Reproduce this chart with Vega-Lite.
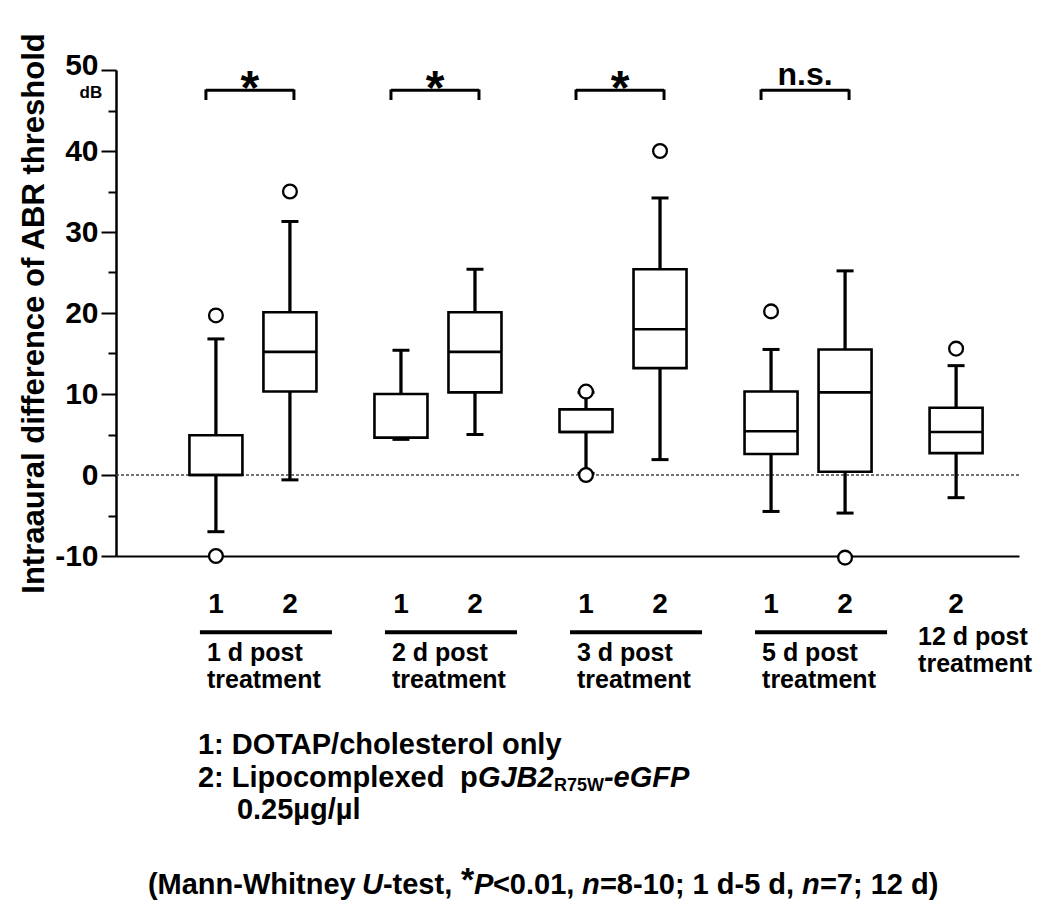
{
  "$schema": "https://vega.github.io/schema/vega-lite/v6.json",
  "width": 903,
  "height": 486,
  "autosize": {"type": "none"},
  "padding": {"left": 116, "top": 70, "right": 31, "bottom": 356},
  "background": "white",
  "config": {
    "view": {"stroke": null},
    "text": {"font": "Liberation Sans", "fontWeight": "bold", "color": "black"},
    "axis": {"grid": false, "labelFont": "Liberation Sans", "titleFont": "Liberation Sans"}
  },
  "datasets": {
    "boxes": [
      {"day": "1d", "trt": "1", "slot": "1d-1", "lower": -7, "q1": 0, "median": 0, "q3": 4.9, "upper": 16.8},
      {"day": "1d", "trt": "2", "slot": "1d-2", "lower": -0.6, "q1": 10.3, "median": 15.2, "q3": 20.1, "upper": 31.3},
      {"day": "2d", "trt": "1", "slot": "2d-1", "lower": 4.4, "q1": 4.6, "median": 4.6, "q3": 10, "upper": 15.4},
      {"day": "2d", "trt": "2", "slot": "2d-2", "lower": 5, "q1": 10.2, "median": 15.2, "q3": 20.1, "upper": 25.4},
      {"day": "3d", "trt": "1", "slot": "3d-1", "lower": 0.2, "q1": 5.3, "median": 5.3, "q3": 8.1, "upper": 10.2},
      {"day": "3d", "trt": "2", "slot": "3d-2", "lower": 1.9, "q1": 13.2, "median": 18, "q3": 25.4, "upper": 34.2},
      {"day": "5d", "trt": "1", "slot": "5d-1", "lower": -4.5, "q1": 2.6, "median": 5.4, "q3": 10.3, "upper": 15.5},
      {"day": "5d", "trt": "2", "slot": "5d-2", "lower": -4.7, "q1": 0.4, "median": 10.2, "q3": 15.5, "upper": 25.2},
      {"day": "12d", "trt": "2", "slot": "12d-2", "lower": -2.8, "q1": 2.7, "median": 5.3, "q3": 8.3, "upper": 13.5}
    ],
    "outliers": [
      {"slot": "1d-1", "value": 19.7},
      {"slot": "1d-1", "value": -10},
      {"slot": "1d-2", "value": 35},
      {"slot": "3d-1", "value": 10.3},
      {"slot": "3d-1", "value": 0},
      {"slot": "3d-2", "value": 40},
      {"slot": "5d-1", "value": 20.2},
      {"slot": "5d-2", "value": -10.2},
      {"slot": "12d-2", "value": 15.6}
    ],
    "pairs": [
      {"a": "1d-1", "b": "1d-2", "mid": "1d", "sig": "*", "label": "1 d post\ntreatment"},
      {"a": "2d-1", "b": "2d-2", "mid": "2d", "sig": "*", "label": "2 d post\ntreatment"},
      {"a": "3d-1", "b": "3d-2", "mid": "3d", "sig": "*", "label": "3 d post\ntreatment"},
      {"a": "5d-1", "b": "5d-2", "mid": "5d", "sig": "n.s.", "label": "5 d post\ntreatment"}
    ],
    "single": [
      {"slot": "12d-2", "label": "12 d post\ntreatment"}
    ]
  },
  "layer": [
    {
      "data": {"name": "boxes"},
      "mark": {"type": "rule", "color": "black", "strokeWidth": 2.8},
      "encoding": {
        "x": {"field": "slot", "type": "nominal",
          "scale": {"type": "point", "padding": 0.7, "domain": ["_l1","_l2","1d-1","1d","1d-2","_a1","_a2","2d-1","2d","2d-2","_b1","_b2","3d-1","3d","3d-2","_c1","_c2","5d-1","5d","5d-2","_d1","_d2","12d-2","_r1"]},
          "axis": {"labels": false, "ticks": false, "title": null, "domain": true, "domainColor": "black", "domainWidth": 2}},
        "y": {"field": "lower", "type": "quantitative",
          "scale": {"domain": [-10, 50], "nice": false, "zero": false},
          "axis": {
            "values": [-10, -5, 0, 5, 10, 15, 20, 25, 30, 35, 40, 45, 50],
            "labelExpr": "datum.value % 10 === 0 ? '' + datum.value : ''",
            "title": "Intraaural difference of ABR threshold",
            "titleFontSize": 31, "titleFontWeight": "bold", "titleColor": "black", "titlePadding": 4,
            "labelFontSize": 30, "labelFontWeight": "bold", "labelColor": "black", "labelPadding": 3,
            "labelOffset": {"condition": {"test": "datum.value === 50", "value": -5}, "value": 0},
            "ticks": true,
            "tickSize": {"condition": {"test": "datum.value % 10 === 0", "value": 15}, "value": 8},
            "tickWidth": 2, "tickColor": "black", "domain": true, "domainColor": "black", "domainWidth": 2.5
          }},
        "y2": {"field": "upper"}
      }
    },
    {
      "data": {"values": [{}]},
      "mark": {"type": "rule", "strokeDash": [3, 2], "color": "#444", "strokeWidth": 1.4},
      "encoding": {
        "y": {"datum": 0, "type": "quantitative", "scale": {"domain": [-10, 50], "nice": false, "zero": false}}
      }
    },
    {
      "data": {"name": "boxes"},
      "mark": {"type": "rule", "color": "black", "strokeWidth": 2.8},
      "encoding": {
        "x": {"field": "slot", "type": "nominal", "scale": {"type": "point", "padding": 0.7, "domain": ["_l1","_l2","1d-1","1d","1d-2","_a1","_a2","2d-1","2d","2d-2","_b1","_b2","3d-1","3d","3d-2","_c1","_c2","5d-1","5d","5d-2","_d1","_d2","12d-2","_r1"]}},
        "y": {"field": "lower", "type": "quantitative", "scale": {"domain": [-10, 50], "nice": false, "zero": false}},
        "y2": {"field": "upper"}
      }
    },
    {
      "data": {"name": "boxes"},
      "mark": {"type": "tick", "size": 17, "thickness": 3, "color": "black", "opacity": 1},
      "encoding": {
        "x": {"field": "slot", "type": "nominal", "scale": {"type": "point", "padding": 0.7, "domain": ["_l1","_l2","1d-1","1d","1d-2","_a1","_a2","2d-1","2d","2d-2","_b1","_b2","3d-1","3d","3d-2","_c1","_c2","5d-1","5d","5d-2","_d1","_d2","12d-2","_r1"]}},
        "y": {"field": "lower", "type": "quantitative", "scale": {"domain": [-10, 50], "nice": false, "zero": false}}
      }
    },
    {
      "data": {"name": "boxes"},
      "mark": {"type": "tick", "size": 17, "thickness": 3, "color": "black", "opacity": 1},
      "encoding": {
        "x": {"field": "slot", "type": "nominal", "scale": {"type": "point", "padding": 0.7, "domain": ["_l1","_l2","1d-1","1d","1d-2","_a1","_a2","2d-1","2d","2d-2","_b1","_b2","3d-1","3d","3d-2","_c1","_c2","5d-1","5d","5d-2","_d1","_d2","12d-2","_r1"]}},
        "y": {"field": "upper", "type": "quantitative", "scale": {"domain": [-10, 50], "nice": false, "zero": false}}
      }
    },
    {
      "data": {"name": "boxes"},
      "mark": {"type": "bar", "size": 53, "fill": "white", "stroke": "black", "strokeWidth": 2.6, "opacity": 1},
      "encoding": {
        "x": {"field": "slot", "type": "nominal", "scale": {"type": "point", "padding": 0.7, "domain": ["_l1","_l2","1d-1","1d","1d-2","_a1","_a2","2d-1","2d","2d-2","_b1","_b2","3d-1","3d","3d-2","_c1","_c2","5d-1","5d","5d-2","_d1","_d2","12d-2","_r1"]}},
        "y": {"field": "q1", "type": "quantitative", "scale": {"domain": [-10, 50], "nice": false, "zero": false}},
        "y2": {"field": "q3"}
      }
    },
    {
      "data": {"name": "boxes"},
      "mark": {"type": "tick", "size": 53, "thickness": 2.6, "color": "black", "opacity": 1},
      "encoding": {
        "x": {"field": "slot", "type": "nominal", "scale": {"type": "point", "padding": 0.7, "domain": ["_l1","_l2","1d-1","1d","1d-2","_a1","_a2","2d-1","2d","2d-2","_b1","_b2","3d-1","3d","3d-2","_c1","_c2","5d-1","5d","5d-2","_d1","_d2","12d-2","_r1"]}},
        "y": {"field": "median", "type": "quantitative", "scale": {"domain": [-10, 50], "nice": false, "zero": false}}
      }
    },
    {
      "data": {"name": "outliers"},
      "mark": {"type": "point", "shape": "circle", "filled": true, "fill": "white", "stroke": "black", "strokeWidth": 2.3, "size": 190, "opacity": 1},
      "encoding": {
        "x": {"field": "slot", "type": "nominal", "scale": {"type": "point", "padding": 0.7, "domain": ["_l1","_l2","1d-1","1d","1d-2","_a1","_a2","2d-1","2d","2d-2","_b1","_b2","3d-1","3d","3d-2","_c1","_c2","5d-1","5d","5d-2","_d1","_d2","12d-2","_r1"]}},
        "y": {"field": "value", "type": "quantitative", "scale": {"domain": [-10, 50], "nice": false, "zero": false}}
      }
    },
    {
      "data": {"name": "pairs"},
      "mark": {"type": "rule", "color": "black", "strokeWidth": 3, "xOffset": -10, "x2Offset": 4},
      "encoding": {
        "x": {"field": "a", "type": "nominal", "scale": {"type": "point", "padding": 0.7, "domain": ["_l1","_l2","1d-1","1d","1d-2","_a1","_a2","2d-1","2d","2d-2","_b1","_b2","3d-1","3d","3d-2","_c1","_c2","5d-1","5d","5d-2","_d1","_d2","12d-2","_r1"]}},
        "x2": {"field": "b"},
        "y": {"datum": 47.5, "type": "quantitative", "scale": {"domain": [-10, 50], "nice": false, "zero": false}}
      }
    },
    {
      "data": {"name": "pairs"},
      "mark": {"type": "rule", "color": "black", "strokeWidth": 3, "xOffset": -10},
      "encoding": {
        "x": {"field": "a", "type": "nominal", "scale": {"type": "point", "padding": 0.7, "domain": ["_l1","_l2","1d-1","1d","1d-2","_a1","_a2","2d-1","2d","2d-2","_b1","_b2","3d-1","3d","3d-2","_c1","_c2","5d-1","5d","5d-2","_d1","_d2","12d-2","_r1"]}},
        "y": {"datum": 46.3, "type": "quantitative", "scale": {"domain": [-10, 50], "nice": false, "zero": false}},
        "y2": {"datum": 47.6}
      }
    },
    {
      "data": {"name": "pairs"},
      "mark": {"type": "rule", "color": "black", "strokeWidth": 3, "xOffset": 4},
      "encoding": {
        "x": {"field": "b", "type": "nominal", "scale": {"type": "point", "padding": 0.7, "domain": ["_l1","_l2","1d-1","1d","1d-2","_a1","_a2","2d-1","2d","2d-2","_b1","_b2","3d-1","3d","3d-2","_c1","_c2","5d-1","5d","5d-2","_d1","_d2","12d-2","_r1"]}},
        "y": {"datum": 46.3, "type": "quantitative", "scale": {"domain": [-10, 50], "nice": false, "zero": false}},
        "y2": {"datum": 47.6}
      }
    },
    {
      "data": {"name": "pairs"},
      "transform": [{"filter": "datum.sig === '*'"}],
      "mark": {"type": "text", "fontSize": 48, "baseline": "alphabetic", "align": "center", "dx": -3},
      "encoding": {
        "x": {"field": "mid", "type": "nominal", "scale": {"type": "point", "padding": 0.7, "domain": ["_l1","_l2","1d-1","1d","1d-2","_a1","_a2","2d-1","2d","2d-2","_b1","_b2","3d-1","3d","3d-2","_c1","_c2","5d-1","5d","5d-2","_d1","_d2","12d-2","_r1"]}},
        "y": {"datum": 45.8, "type": "quantitative", "scale": {"domain": [-10, 50], "nice": false, "zero": false}},
        "text": {"field": "sig"}
      }
    },
    {
      "data": {"name": "pairs"},
      "transform": [{"filter": "datum.sig !== '*'"}],
      "mark": {"type": "text", "fontSize": 32, "baseline": "alphabetic", "align": "center", "dx": -3},
      "encoding": {
        "x": {"field": "mid", "type": "nominal", "scale": {"type": "point", "padding": 0.7, "domain": ["_l1","_l2","1d-1","1d","1d-2","_a1","_a2","2d-1","2d","2d-2","_b1","_b2","3d-1","3d","3d-2","_c1","_c2","5d-1","5d","5d-2","_d1","_d2","12d-2","_r1"]}},
        "y": {"datum": 48.1, "type": "quantitative", "scale": {"domain": [-10, 50], "nice": false, "zero": false}},
        "text": {"field": "sig"}
      }
    },
    {
      "data": {"name": "boxes"},
      "mark": {"type": "text", "fontSize": 28, "baseline": "middle", "align": "center"},
      "encoding": {
        "x": {"field": "slot", "type": "nominal", "scale": {"type": "point", "padding": 0.7, "domain": ["_l1","_l2","1d-1","1d","1d-2","_a1","_a2","2d-1","2d","2d-2","_b1","_b2","3d-1","3d","3d-2","_c1","_c2","5d-1","5d","5d-2","_d1","_d2","12d-2","_r1"]}},
        "y": {"datum": -16.1, "type": "quantitative", "scale": {"domain": [-10, 50], "nice": false, "zero": false}},
        "text": {"field": "trt"}
      }
    },
    {
      "data": {"name": "pairs"},
      "mark": {"type": "rule", "color": "black", "strokeWidth": 4, "xOffset": -16, "x2Offset": 42},
      "encoding": {
        "x": {"field": "a", "type": "nominal", "scale": {"type": "point", "padding": 0.7, "domain": ["_l1","_l2","1d-1","1d","1d-2","_a1","_a2","2d-1","2d","2d-2","_b1","_b2","3d-1","3d","3d-2","_c1","_c2","5d-1","5d","5d-2","_d1","_d2","12d-2","_r1"]}},
        "x2": {"field": "b"},
        "y": {"datum": -19.4, "type": "quantitative", "scale": {"domain": [-10, 50], "nice": false, "zero": false}}
      }
    },
    {
      "data": {"name": "pairs"},
      "mark": {"type": "text", "fontSize": 25, "baseline": "alphabetic", "align": "left", "dx": -46, "lineBreak": "\n", "lineHeight": 27},
      "encoding": {
        "x": {"field": "mid", "type": "nominal", "scale": {"type": "point", "padding": 0.7, "domain": ["_l1","_l2","1d-1","1d","1d-2","_a1","_a2","2d-1","2d","2d-2","_b1","_b2","3d-1","3d","3d-2","_c1","_c2","5d-1","5d","5d-2","_d1","_d2","12d-2","_r1"]}},
        "y": {"datum": -23, "type": "quantitative", "scale": {"domain": [-10, 50], "nice": false, "zero": false}},
        "text": {"field": "label"}
      }
    },
    {
      "data": {"name": "single"},
      "mark": {"type": "text", "fontSize": 25, "baseline": "alphabetic", "align": "left", "dx": -38, "lineBreak": "\n", "lineHeight": 27},
      "encoding": {
        "x": {"field": "slot", "type": "nominal", "scale": {"type": "point", "padding": 0.7, "domain": ["_l1","_l2","1d-1","1d","1d-2","_a1","_a2","2d-1","2d","2d-2","_b1","_b2","3d-1","3d","3d-2","_c1","_c2","5d-1","5d","5d-2","_d1","_d2","12d-2","_r1"]}},
        "y": {"datum": -21, "type": "quantitative", "scale": {"domain": [-10, 50], "nice": false, "zero": false}},
        "text": {"field": "label"}
      }
    },
    {
      "data": {"values": [{}]},
      "mark": {"type": "text", "fontSize": 29, "baseline": "middle", "align": "left", "dx": -18, "text": "1: DOTAP/cholesterol only"},
      "encoding": {
        "x": {"datum": "1d-1", "type": "nominal", "scale": {"type": "point", "padding": 0.7, "domain": ["_l1","_l2","1d-1","1d","1d-2","_a1","_a2","2d-1","2d","2d-2","_b1","_b2","3d-1","3d","3d-2","_c1","_c2","5d-1","5d","5d-2","_d1","_d2","12d-2","_r1"]}},
        "y": {"datum": -33.3, "type": "quantitative", "scale": {"domain": [-10, 50], "nice": false, "zero": false}}
      }
    },
    {
      "data": {"values": [{}]},
      "mark": {"type": "text", "fontSize": 29, "baseline": "middle", "align": "left", "dx": -18, "text": "2: Lipocomplexed"},
      "encoding": {
        "x": {"datum": "1d-1", "type": "nominal", "scale": {"type": "point", "padding": 0.7, "domain": ["_l1","_l2","1d-1","1d","1d-2","_a1","_a2","2d-1","2d","2d-2","_b1","_b2","3d-1","3d","3d-2","_c1","_c2","5d-1","5d","5d-2","_d1","_d2","12d-2","_r1"]}},
        "y": {"datum": -37.4, "type": "quantitative", "scale": {"domain": [-10, 50], "nice": false, "zero": false}}
      }
    },
    {
      "data": {"values": [{}]},
      "mark": {"type": "text", "fontSize": 29, "baseline": "middle", "align": "left", "dx": 244, "text": "p"},
      "encoding": {
        "x": {"datum": "1d-1", "type": "nominal", "scale": {"type": "point", "padding": 0.7, "domain": ["_l1","_l2","1d-1","1d","1d-2","_a1","_a2","2d-1","2d","2d-2","_b1","_b2","3d-1","3d","3d-2","_c1","_c2","5d-1","5d","5d-2","_d1","_d2","12d-2","_r1"]}},
        "y": {"datum": -37.4, "type": "quantitative", "scale": {"domain": [-10, 50], "nice": false, "zero": false}}
      }
    },
    {
      "data": {"values": [{}]},
      "mark": {"type": "text", "fontSize": 29, "fontStyle": "italic", "baseline": "middle", "align": "left", "dx": 262, "text": "GJB2"},
      "encoding": {
        "x": {"datum": "1d-1", "type": "nominal", "scale": {"type": "point", "padding": 0.7, "domain": ["_l1","_l2","1d-1","1d","1d-2","_a1","_a2","2d-1","2d","2d-2","_b1","_b2","3d-1","3d","3d-2","_c1","_c2","5d-1","5d","5d-2","_d1","_d2","12d-2","_r1"]}},
        "y": {"datum": -37.4, "type": "quantitative", "scale": {"domain": [-10, 50], "nice": false, "zero": false}}
      }
    },
    {
      "data": {"values": [{}]},
      "mark": {"type": "text", "fontSize": 18, "baseline": "middle", "align": "left", "dx": 338, "dy": 8, "text": "R75W"},
      "encoding": {
        "x": {"datum": "1d-1", "type": "nominal", "scale": {"type": "point", "padding": 0.7, "domain": ["_l1","_l2","1d-1","1d","1d-2","_a1","_a2","2d-1","2d","2d-2","_b1","_b2","3d-1","3d","3d-2","_c1","_c2","5d-1","5d","5d-2","_d1","_d2","12d-2","_r1"]}},
        "y": {"datum": -37.4, "type": "quantitative", "scale": {"domain": [-10, 50], "nice": false, "zero": false}}
      }
    },
    {
      "data": {"values": [{}]},
      "mark": {"type": "text", "fontSize": 29, "fontStyle": "italic", "baseline": "middle", "align": "left", "dx": 388, "text": "-eGFP"},
      "encoding": {
        "x": {"datum": "1d-1", "type": "nominal", "scale": {"type": "point", "padding": 0.7, "domain": ["_l1","_l2","1d-1","1d","1d-2","_a1","_a2","2d-1","2d","2d-2","_b1","_b2","3d-1","3d","3d-2","_c1","_c2","5d-1","5d","5d-2","_d1","_d2","12d-2","_r1"]}},
        "y": {"datum": -37.4, "type": "quantitative", "scale": {"domain": [-10, 50], "nice": false, "zero": false}}
      }
    },
    {
      "data": {"values": [{}]},
      "mark": {"type": "text", "fontSize": 29, "baseline": "middle", "align": "left", "dx": 21, "text": "0.25µg/µl"},
      "encoding": {
        "x": {"datum": "1d-1", "type": "nominal", "scale": {"type": "point", "padding": 0.7, "domain": ["_l1","_l2","1d-1","1d","1d-2","_a1","_a2","2d-1","2d","2d-2","_b1","_b2","3d-1","3d","3d-2","_c1","_c2","5d-1","5d","5d-2","_d1","_d2","12d-2","_r1"]}},
        "y": {"datum": -41.4, "type": "quantitative", "scale": {"domain": [-10, 50], "nice": false, "zero": false}}
      }
    },
    {
      "data": {"values": [{}]},
      "mark": {"type": "text", "fontSize": 29, "baseline": "middle", "align": "left", "dx": -68, "text": "(Mann-Whitney"},
      "encoding": {
        "x": {"datum": "1d-1", "type": "nominal", "scale": {"type": "point", "padding": 0.7, "domain": ["_l1","_l2","1d-1","1d","1d-2","_a1","_a2","2d-1","2d","2d-2","_b1","_b2","3d-1","3d","3d-2","_c1","_c2","5d-1","5d","5d-2","_d1","_d2","12d-2","_r1"]}},
        "y": {"datum": -50.6, "type": "quantitative", "scale": {"domain": [-10, 50], "nice": false, "zero": false}}
      }
    },
    {
      "data": {"values": [{}]},
      "mark": {"type": "text", "fontSize": 29, "fontStyle": "italic", "baseline": "middle", "align": "left", "dx": 146, "text": "U"},
      "encoding": {
        "x": {"datum": "1d-1", "type": "nominal", "scale": {"type": "point", "padding": 0.7, "domain": ["_l1","_l2","1d-1","1d","1d-2","_a1","_a2","2d-1","2d","2d-2","_b1","_b2","3d-1","3d","3d-2","_c1","_c2","5d-1","5d","5d-2","_d1","_d2","12d-2","_r1"]}},
        "y": {"datum": -50.6, "type": "quantitative", "scale": {"domain": [-10, 50], "nice": false, "zero": false}}
      }
    },
    {
      "data": {"values": [{}]},
      "mark": {"type": "text", "fontSize": 29, "baseline": "middle", "align": "left", "dx": 167, "text": "-test,"},
      "encoding": {
        "x": {"datum": "1d-1", "type": "nominal", "scale": {"type": "point", "padding": 0.7, "domain": ["_l1","_l2","1d-1","1d","1d-2","_a1","_a2","2d-1","2d","2d-2","_b1","_b2","3d-1","3d","3d-2","_c1","_c2","5d-1","5d","5d-2","_d1","_d2","12d-2","_r1"]}},
        "y": {"datum": -50.6, "type": "quantitative", "scale": {"domain": [-10, 50], "nice": false, "zero": false}}
      }
    },
    {
      "data": {"values": [{}]},
      "mark": {"type": "text", "fontSize": 34, "baseline": "middle", "align": "left", "dx": 245, "dy": -4, "text": "*"},
      "encoding": {
        "x": {"datum": "1d-1", "type": "nominal", "scale": {"type": "point", "padding": 0.7, "domain": ["_l1","_l2","1d-1","1d","1d-2","_a1","_a2","2d-1","2d","2d-2","_b1","_b2","3d-1","3d","3d-2","_c1","_c2","5d-1","5d","5d-2","_d1","_d2","12d-2","_r1"]}},
        "y": {"datum": -50.6, "type": "quantitative", "scale": {"domain": [-10, 50], "nice": false, "zero": false}}
      }
    },
    {
      "data": {"values": [{}]},
      "mark": {"type": "text", "fontSize": 29, "fontStyle": "italic", "baseline": "middle", "align": "left", "dx": 258, "text": "P"},
      "encoding": {
        "x": {"datum": "1d-1", "type": "nominal", "scale": {"type": "point", "padding": 0.7, "domain": ["_l1","_l2","1d-1","1d","1d-2","_a1","_a2","2d-1","2d","2d-2","_b1","_b2","3d-1","3d","3d-2","_c1","_c2","5d-1","5d","5d-2","_d1","_d2","12d-2","_r1"]}},
        "y": {"datum": -50.6, "type": "quantitative", "scale": {"domain": [-10, 50], "nice": false, "zero": false}}
      }
    },
    {
      "data": {"values": [{}]},
      "mark": {"type": "text", "fontSize": 29, "baseline": "middle", "align": "left", "dx": 277, "text": "<0.01,"},
      "encoding": {
        "x": {"datum": "1d-1", "type": "nominal", "scale": {"type": "point", "padding": 0.7, "domain": ["_l1","_l2","1d-1","1d","1d-2","_a1","_a2","2d-1","2d","2d-2","_b1","_b2","3d-1","3d","3d-2","_c1","_c2","5d-1","5d","5d-2","_d1","_d2","12d-2","_r1"]}},
        "y": {"datum": -50.6, "type": "quantitative", "scale": {"domain": [-10, 50], "nice": false, "zero": false}}
      }
    },
    {
      "data": {"values": [{}]},
      "mark": {"type": "text", "fontSize": 29, "fontStyle": "italic", "baseline": "middle", "align": "left", "dx": 366, "text": "n"},
      "encoding": {
        "x": {"datum": "1d-1", "type": "nominal", "scale": {"type": "point", "padding": 0.7, "domain": ["_l1","_l2","1d-1","1d","1d-2","_a1","_a2","2d-1","2d","2d-2","_b1","_b2","3d-1","3d","3d-2","_c1","_c2","5d-1","5d","5d-2","_d1","_d2","12d-2","_r1"]}},
        "y": {"datum": -50.6, "type": "quantitative", "scale": {"domain": [-10, 50], "nice": false, "zero": false}}
      }
    },
    {
      "data": {"values": [{}]},
      "mark": {"type": "text", "fontSize": 29, "baseline": "middle", "align": "left", "dx": 384, "text": "=8-10; 1 d-5 d,"},
      "encoding": {
        "x": {"datum": "1d-1", "type": "nominal", "scale": {"type": "point", "padding": 0.7, "domain": ["_l1","_l2","1d-1","1d","1d-2","_a1","_a2","2d-1","2d","2d-2","_b1","_b2","3d-1","3d","3d-2","_c1","_c2","5d-1","5d","5d-2","_d1","_d2","12d-2","_r1"]}},
        "y": {"datum": -50.6, "type": "quantitative", "scale": {"domain": [-10, 50], "nice": false, "zero": false}}
      }
    },
    {
      "data": {"values": [{}]},
      "mark": {"type": "text", "fontSize": 29, "fontStyle": "italic", "baseline": "middle", "align": "left", "dx": 586, "text": "n"},
      "encoding": {
        "x": {"datum": "1d-1", "type": "nominal", "scale": {"type": "point", "padding": 0.7, "domain": ["_l1","_l2","1d-1","1d","1d-2","_a1","_a2","2d-1","2d","2d-2","_b1","_b2","3d-1","3d","3d-2","_c1","_c2","5d-1","5d","5d-2","_d1","_d2","12d-2","_r1"]}},
        "y": {"datum": -50.6, "type": "quantitative", "scale": {"domain": [-10, 50], "nice": false, "zero": false}}
      }
    },
    {
      "data": {"values": [{}]},
      "mark": {"type": "text", "fontSize": 29, "baseline": "middle", "align": "left", "dx": 604, "text": "=7; 12 d)"},
      "encoding": {
        "x": {"datum": "1d-1", "type": "nominal", "scale": {"type": "point", "padding": 0.7, "domain": ["_l1","_l2","1d-1","1d","1d-2","_a1","_a2","2d-1","2d","2d-2","_b1","_b2","3d-1","3d","3d-2","_c1","_c2","5d-1","5d","5d-2","_d1","_d2","12d-2","_r1"]}},
        "y": {"datum": -50.6, "type": "quantitative", "scale": {"domain": [-10, 50], "nice": false, "zero": false}}
      }
    },
    {
      "data": {"values": [{}]},
      "mark": {"type": "text", "fontSize": 17, "baseline": "middle", "align": "center", "dx": -51, "text": "dB"},
      "encoding": {
        "x": {"datum": "_l1", "type": "nominal", "scale": {"type": "point", "padding": 0.7, "domain": ["_l1","_l2","1d-1","1d","1d-2","_a1","_a2","2d-1","2d","2d-2","_b1","_b2","3d-1","3d","3d-2","_c1","_c2","5d-1","5d","5d-2","_d1","_d2","12d-2","_r1"]}},
        "y": {"datum": 47.2, "type": "quantitative", "scale": {"domain": [-10, 50], "nice": false, "zero": false}}
      }
    }
  ]
}
